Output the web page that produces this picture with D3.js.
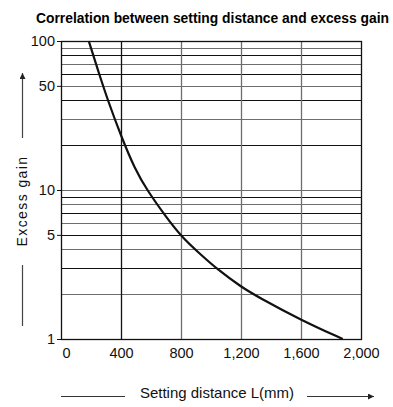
<!DOCTYPE html>
<html>
<head>
  <meta charset="utf-8">
  <title>Correlation between setting distance and excess gain</title>
  <style>
    body { margin: 0; background: #fff; }
    svg { display: block; font-family: "Liberation Sans", Arial, sans-serif; }
    .title { font-weight: bold; font-size: 14px; }
    .tick text { font-size: 14.5px; fill: #111; }
  </style>
</head>
<body>
  <svg id="chart" width="393" height="407"></svg>
  <script src="https://d3js.org/d3.v7.min.js"></script>
  <script>
    // curve: setting distance (mm) vs excess gain
    var distance = [185, 250, 315, 402, 493, 573, 700, 800, 927, 1049, 1200, 1315, 1600, 1878];
    var gain = [100, 62, 39.2, 22.8, 13.8, 10.0, 6.6, 4.9, 3.72, 2.9, 2.24, 1.91, 1.34, 1.0];

    var xTicks = [0, 400, 800, 1200, 1600, 2000];
    var xTickLabels = ['0', '400', '800', '1,200', '1,600', '2,000'];
    var yTicks = [1, 5, 10, 50, 100];
    var yGrid = [2, 3, 4, 5, 6, 7, 8, 9, 10, 20, 30, 40, 50, 60, 70, 80, 90];

    var svg = d3.select('#chart');

    var x = d3.scaleLinear().domain([0, 2000]).range([61, 361]);
    var y = d3.scaleLog().domain([1, 100]).range([339, 41]);

    // the scan uses a condensed bold face, so squeeze the text to its width
    svg.append('text')
      .attr('class', 'title')
      .attr('x', 36)
      .attr('y', 23)
      .attr('textLength', 353)
      .attr('lengthAdjust', 'spacingAndGlyphs')
      .text('Correlation between setting distance and excess gain');

    // horizontal grid, alternating dark and grey like the scan
    svg.append('g').selectAll('line')
      .data(yGrid)
      .enter().append('line')
      .attr('x1', x(0)).attr('x2', x(2000))
      .attr('y1', function(d) { return Math.round(y(d)) + 0.5; })
      .attr('y2', function(d) { return Math.round(y(d)) + 0.5; })
      .attr('stroke', function(d, i) { return i % 2 ? '#111' : '#6e6e6e'; })
      .attr('stroke-width', 1.2);

    // vertical grid
    svg.append('g').selectAll('line')
      .data(xTicks.slice(1, -1))
      .enter().append('line')
      .attr('y1', y(100)).attr('y2', y(1))
      .attr('x1', function(d) { return Math.round(x(d)) + 0.5; })
      .attr('x2', function(d) { return Math.round(x(d)) + 0.5; })
      .attr('stroke', function(d, i) { return i === 0 ? '#111' : '#6e6e6e'; })
      .attr('stroke-width', 1.3);

    // frame
    svg.append('rect')
      .attr('x', x(0) + 0.5).attr('y', y(100) + 0.5)
      .attr('width', x(2000) - x(0)).attr('height', y(1) - y(100))
      .attr('fill', 'none').attr('stroke', '#111').attr('stroke-width', 1.3);

    var yAxis = d3.axisLeft(y)
      .tickValues(yTicks)
      .tickFormat(d3.format('d'))
      .tickSize(4)
      .tickPadding(2);
    var gy = svg.append('g')
      .attr('transform', 'translate(' + x(0) + ',0)')
      .call(yAxis);
    gy.select('.domain').remove();
    gy.selectAll('.tick line').attr('stroke', '#111');

    var xAxis = d3.axisBottom(x)
      .tickValues(xTicks)
      .tickFormat(function(d, i) { return xTickLabels[i]; })
      .tickSize(0)
      .tickPadding(9);
    var gx = svg.append('g')
      .attr('transform', 'translate(0,' + y(1) + ')')
      .call(xAxis);
    gx.select('.domain').remove();
    gx.selectAll('.tick').filter(function(d) { return d === 0; })
      .select('text').attr('dx', 5);

    // the curve
    var line = d3.line()
      .x(function(d, i) { return x(distance[i]); })
      .y(function(d, i) { return y(gain[i]); })
      .curve(d3.curveBasis);

    svg.append('path')
      .datum(distance)
      .attr('d', line)
      .attr('fill', 'none')
      .attr('stroke', '#111')
      .attr('stroke-width', 2.2);

    // arrow marker
    svg.append('defs').append('marker')
      .attr('id', 'arrow')
      .attr('viewBox', '0 0 10 10')
      .attr('refX', 10).attr('refY', 5)
      .attr('markerWidth', 10).attr('markerHeight', 6)
      .attr('markerUnits', 'userSpaceOnUse')
      .attr('orient', 'auto')
      .append('path').attr('d', 'M0,0L10,5L0,10Z').attr('fill', '#222');

    // x axis title with lines
    svg.append('text')
      .attr('x', 217).attr('y', 398)
      .attr('text-anchor', 'middle')
      .attr('font-size', 15)
      .attr('fill', '#111')
      .text('Setting distance L(mm)');
    svg.append('line')
      .attr('x1', 61).attr('x2', 125).attr('y1', 396.5).attr('y2', 396.5)
      .attr('stroke', '#333').attr('stroke-width', 1.2);
    svg.append('line')
      .attr('x1', 307).attr('x2', 374).attr('y1', 396.5).attr('y2', 396.5)
      .attr('stroke', '#333').attr('stroke-width', 1.2)
      .attr('marker-end', 'url(#arrow)');

    // y axis title with lines
    svg.append('text')
      .attr('transform', 'translate(27,201) rotate(-90)')
      .attr('text-anchor', 'middle')
      .attr('font-size', 14)
      .attr('letter-spacing', 1.4)
      .attr('fill', '#111')
      .text('Excess gain');
    svg.append('line')
      .attr('x1', 22.5).attr('x2', 22.5).attr('y1', 138).attr('y2', 73)
      .attr('stroke', '#444').attr('stroke-width', 1.2)
      .attr('marker-end', 'url(#arrow)');
    svg.append('line')
      .attr('x1', 22.5).attr('x2', 22.5).attr('y1', 265).attr('y2', 326)
      .attr('stroke', '#444').attr('stroke-width', 1.2);
  </script>
</body>
</html>
